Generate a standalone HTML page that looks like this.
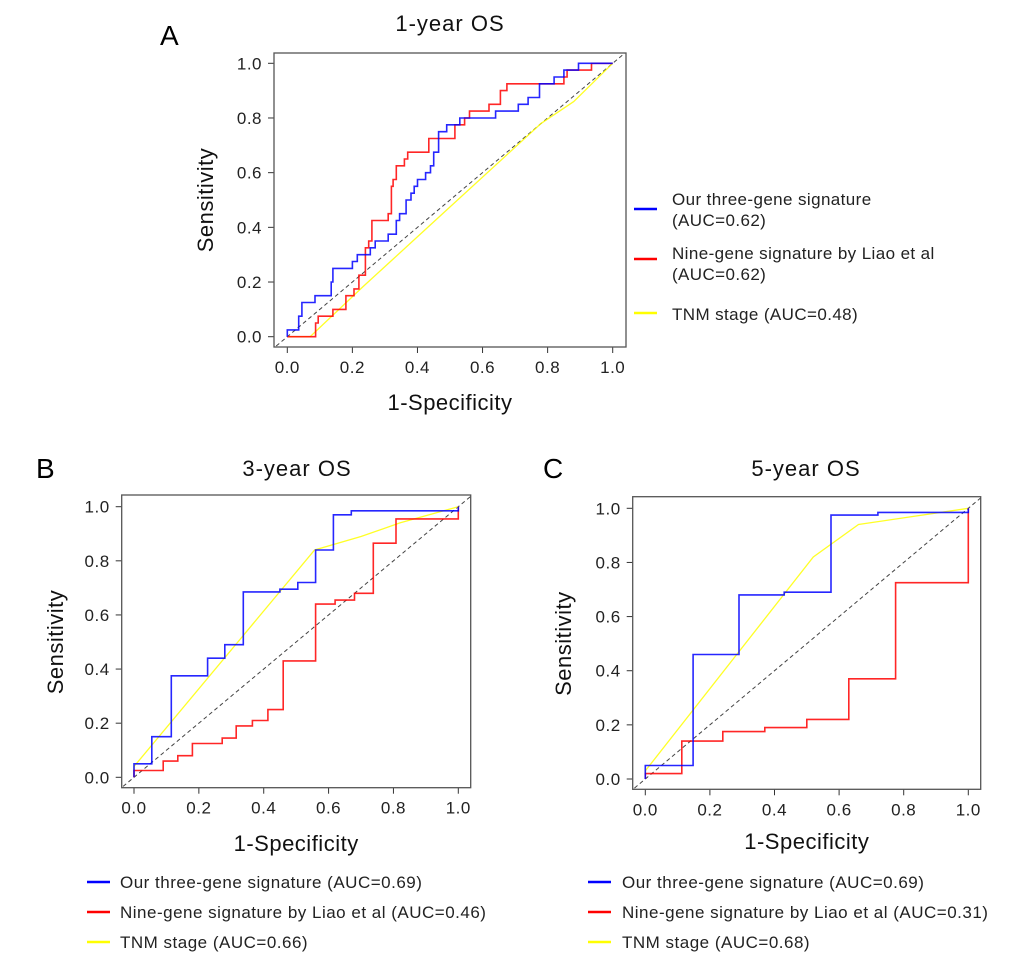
<!DOCTYPE html>
<html><head><meta charset="utf-8"><style>
body{margin:0;background:#fff}
svg{display:block;font-family:"Liberation Sans",sans-serif}
</style></head><body>
<svg id="fig" width="1020" height="967" viewBox="0 0 1020 967">
<text x="160" y="45" font-size="28">A</text>
<text x="36" y="478" font-size="28">B</text>
<text x="543" y="478" font-size="28">C</text>
<g font-size="17" letter-spacing="0.4" fill="#222">
<line x1="634" y1="209" x2="657" y2="209" stroke="#0000ff" stroke-width="2.5"/>
<text x="672" y="205">Our three-gene signature</text>
<text x="672" y="226">(AUC=0.62)</text>
<line x1="634" y1="259" x2="657" y2="259" stroke="#ff0000" stroke-width="2.5"/>
<text x="672" y="259">Nine-gene signature by Liao et al</text>
<text x="672" y="280">(AUC=0.62)</text>
<line x1="634" y1="313" x2="657" y2="313" stroke="#ffff00" stroke-width="2.5"/>
<text x="672" y="320">TNM stage (AUC=0.48)</text>
</g>
<g font-size="17" letter-spacing="0.5" fill="#222">
<line x1="87" y1="882" x2="110" y2="882" stroke="#0000ff" stroke-width="2.5"/>
<text x="120" y="888">Our three-gene signature (AUC=0.69)</text>
<line x1="87" y1="912" x2="110" y2="912" stroke="#ff0000" stroke-width="2.5"/>
<text x="120" y="918">Nine-gene signature by Liao et al (AUC=0.46)</text>
<line x1="87" y1="942" x2="110" y2="942" stroke="#ffff00" stroke-width="2.5"/>
<text x="120" y="948">TNM stage (AUC=0.66)</text>
</g>
<g font-size="17" letter-spacing="0.5" fill="#222">
<line x1="588" y1="882" x2="611" y2="882" stroke="#0000ff" stroke-width="2.5"/>
<text x="622" y="888">Our three-gene signature (AUC=0.69)</text>
<line x1="588" y1="912" x2="611" y2="912" stroke="#ff0000" stroke-width="2.5"/>
<text x="622" y="918">Nine-gene signature by Liao et al (AUC=0.31)</text>
<line x1="588" y1="942" x2="611" y2="942" stroke="#ffff00" stroke-width="2.5"/>
<text x="622" y="948">TNM stage (AUC=0.68)</text>
</g>
</svg>
<script>
const tickValues = [0, 0.2, 0.4, 0.6, 0.8, 1.0];
const tickLabels = ["0.0", "0.2", "0.4", "0.6", "0.8", "1.0"];
const blueA = [[0,0],[0,0.025],[0.035,0.025],[0.035,0.075],[0.045,0.075],[0.045,0.125],[0.085,0.125],[0.085,0.15],[0.135,0.15],[0.135,0.2],[0.14,0.2],[0.14,0.25],[0.2,0.25],[0.2,0.275],[0.215,0.275],[0.215,0.3],[0.255,0.3],[0.255,0.325],[0.27,0.325],[0.27,0.35],[0.31,0.35],[0.31,0.375],[0.335,0.375],[0.335,0.425],[0.345,0.425],[0.345,0.45],[0.365,0.45],[0.365,0.5],[0.38,0.5],[0.38,0.525],[0.39,0.525],[0.39,0.55],[0.4,0.55],[0.4,0.575],[0.425,0.575],[0.425,0.6],[0.44,0.6],[0.44,0.625],[0.45,0.625],[0.45,0.675],[0.465,0.675],[0.465,0.75],[0.49,0.75],[0.49,0.775],[0.53,0.775],[0.53,0.8],[0.64,0.8],[0.64,0.825],[0.71,0.825],[0.71,0.85],[0.74,0.85],[0.74,0.875],[0.775,0.875],[0.775,0.925],[0.82,0.925],[0.82,0.95],[0.85,0.95],[0.85,0.975],[0.895,0.975],[0.895,1],[1,1]];
const redA = [[0,0],[0.087,0],[0.087,0.05],[0.095,0.05],[0.095,0.075],[0.14,0.075],[0.14,0.1],[0.18,0.1],[0.18,0.15],[0.205,0.15],[0.205,0.175],[0.22,0.175],[0.22,0.225],[0.24,0.225],[0.24,0.325],[0.25,0.325],[0.25,0.35],[0.26,0.35],[0.26,0.425],[0.31,0.425],[0.31,0.45],[0.32,0.45],[0.32,0.55],[0.325,0.55],[0.325,0.575],[0.335,0.575],[0.335,0.625],[0.36,0.625],[0.36,0.65],[0.37,0.65],[0.37,0.675],[0.435,0.675],[0.435,0.725],[0.515,0.725],[0.515,0.775],[0.545,0.775],[0.545,0.8],[0.56,0.8],[0.56,0.825],[0.62,0.825],[0.62,0.85],[0.655,0.85],[0.655,0.9],[0.675,0.9],[0.675,0.925],[0.85,0.925],[0.85,0.95],[0.86,0.95],[0.86,0.975],[0.935,0.975],[0.935,1],[1,1]];
const yellowA = [[0,0],[0.07,0],[0.23,0.18],[0.45,0.42],[0.78,0.78],[0.88,0.86],[1,1]];
const blueB = [[0,0],[0,0.05],[0.055,0.05],[0.055,0.15],[0.115,0.15],[0.115,0.375],[0.227,0.375],[0.227,0.44],[0.28,0.44],[0.28,0.49],[0.337,0.49],[0.337,0.685],[0.45,0.685],[0.45,0.695],[0.505,0.695],[0.505,0.72],[0.56,0.72],[0.56,0.84],[0.615,0.84],[0.615,0.97],[0.67,0.97],[0.67,0.985],[1,0.985],[1,1]];
const redB = [[0,0],[0,0.025],[0.09,0.025],[0.09,0.06],[0.135,0.06],[0.135,0.08],[0.18,0.08],[0.18,0.125],[0.272,0.125],[0.272,0.145],[0.315,0.145],[0.315,0.19],[0.365,0.19],[0.365,0.21],[0.413,0.21],[0.413,0.25],[0.46,0.25],[0.46,0.43],[0.56,0.43],[0.56,0.64],[0.62,0.64],[0.62,0.655],[0.68,0.655],[0.68,0.68],[0.738,0.68],[0.738,0.865],[0.808,0.865],[0.808,0.955],[1,0.955],[1,1]];
const yellowB = [[0,0],[0,0.04],[0.557,0.84],[0.7,0.89],[0.82,0.94],[1,1]];
const blueC = [[0,0],[0,0.05],[0.148,0.05],[0.148,0.46],[0.29,0.46],[0.29,0.68],[0.43,0.68],[0.43,0.69],[0.575,0.69],[0.575,0.975],[0.72,0.975],[0.72,0.985],[1,0.985],[1,1]];
const redC = [[0,0],[0,0.02],[0.113,0.02],[0.113,0.14],[0.24,0.14],[0.24,0.175],[0.37,0.175],[0.37,0.19],[0.5,0.19],[0.5,0.22],[0.63,0.22],[0.63,0.37],[0.775,0.37],[0.775,0.725],[1,0.725],[1,1]];
const yellowC = [[0,0],[0,0.03],[0.52,0.82],[0.66,0.94],[1,1]];

const NS = "http://www.w3.org/2000/svg";
const svg = document.getElementById('fig');
function mk(tag, attrs, parent) {
  const e = document.createElementNS(NS, tag);
  for (const k in attrs) e.setAttribute(k, attrs[k]);
  (parent || svg).appendChild(e);
  return e;
}
const panels = [
  {id:'a', title:'1-year OS', box:[274,53,626,347], x0:287.3, x1:612.7, y0:336.7, y1:63.3, series:[blueA, redA, yellowA], titleXY:[450,31], xlabY:410, ylabX:213},
  {id:'b', title:'3-year OS', box:[121.7,495,470.7,787.7], x0:134, x1:458.3, y0:777.3, y1:506.7, series:[blueB, redB, yellowB], titleXY:[297,476], xlabY:851, ylabX:63},
  {id:'c', title:'5-year OS', box:[632.7,496.7,980.7,789.3], x0:645.3, x1:968.3, y0:779, y1:508.3, series:[blueC, redC, yellowC], titleXY:[806,476], xlabY:849, ylabX:571}
];
const colors = ['#0000ff', '#ff0000', '#ffff00'];
const names = ['blue-three-gene', 'red-nine-gene', 'yellow-tnm'];
panels.forEach(p => {
  const sx = v => p.x0 + v * (p.x1 - p.x0);
  const sy = v => p.y0 + v * (p.y1 - p.y0);
  const g = mk('g', {});
  
  
  const [bx0, by0, bx1, by1] = p.box;
  const clip = mk('clipPath', {id: 'clip' + p.id}, g);
  mk('rect', {x: bx0, y: by0, width: bx1 - bx0, height: by1 - by0}, clip);
  const t = mk('text', {x: p.titleXY[0], y: p.titleXY[1], 'font-size': 22, 'letter-spacing': 1, 'text-anchor': 'middle', fill: '#111'}, g);
  t.textContent = p.title;
  
  
  const xl = mk('text', {x: (p.x0 + p.x1) / 2, y: p.xlabY, 'font-size': 22, 'letter-spacing': 0.5, 'text-anchor': 'middle', fill: '#111'}, g);
  xl.textContent = '1-Specificity';
  
  
  const cy = (p.y0 + p.y1) / 2;
  const yl = mk('text', {x: p.ylabX, y: cy, 'font-size': 22, 'letter-spacing': 0.5, 'text-anchor': 'middle', fill: '#111', transform: `rotate(-90 ${p.ylabX} ${cy})`}, g);
  yl.textContent = 'Sensitivity';
  
  
  tickValues.forEach((v, i) => {
    const x = sx(v), y = sy(v);
    mk('line', {x1: x, y1: by1, x2: x, y2: by1 + 6, stroke: '#333', 'stroke-width': 1}, g);
    const tx = mk('text', {x: x, y: by1 + 26, 'font-size': 17, 'letter-spacing': 0.5, 'text-anchor': 'middle', fill: '#222'}, g);
    tx.textContent = tickLabels[i];
    
    
    mk('line', {x1: bx0 - 6, y1: y, x2: bx0, y2: y, stroke: '#333', 'stroke-width': 1}, g);
    const ty = mk('text', {x: bx0 - 12, y: y + 6, 'font-size': 17, 'letter-spacing': 0.5, 'text-anchor': 'end', fill: '#222'}, g);
    ty.textContent = tickLabels[i];
    
    
  });
  const inner = mk('g', {'clip-path': `url(#clip${p.id})`}, g);
  const d = mk('line', {x1: sx(-0.1), y1: sy(-0.1), x2: sx(1.1), y2: sy(1.1), stroke: '#444', 'stroke-width': 1, 'stroke-dasharray': '4,3'}, inner);
  
  
  [2, 1, 0].forEach(si => {
    const pts = p.series[si].map(q => sx(q[0]).toFixed(1) + ',' + sy(q[1]).toFixed(1)).join(' ');
    const pl = mk('polyline', {points: pts, fill: 'none', stroke: colors[si], 'stroke-width': si === 2 ? 1.3 : 1.6, 'stroke-opacity': 0.85}, inner);
    
    
  });
  const r = mk('rect', {x: bx0, y: by0, width: bx1 - bx0, height: by1 - by0, fill: 'none', stroke: '#555', 'stroke-width': 1.3}, g);
  
  
});
</script>
</body></html>
